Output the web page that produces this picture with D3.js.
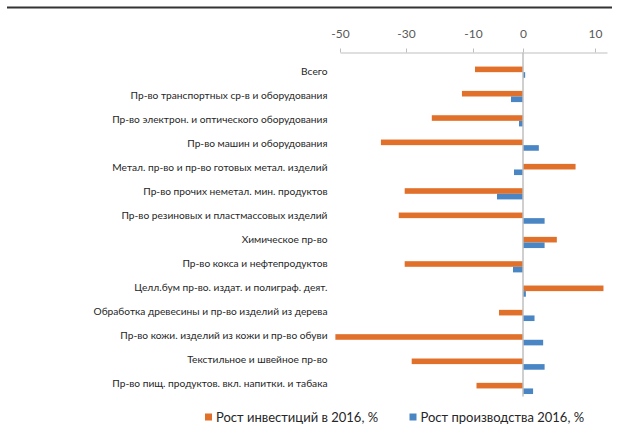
<!DOCTYPE html>
<html>
<head>
<meta charset="utf-8">
<script src="https://cdn.jsdelivr.net/npm/d3@7"></script>
<style>
    body { margin: 0; background: #fff; }
    svg { display: block; font-family: Lato, "Open Sans", sans-serif; }
</style>
</head>
<body>
<div id="chart"></div>
<script>
// categories, top to bottom
const categories = [
    "Всего",
    "Пр-во транспортных ср-в и оборудования",
    "Пр-во электрон. и оптического оборудования",
    "Пр-во машин и оборудования",
    "Метал. пр-во и пр-во готовых метал. изделий",
    "Пр-во прочих неметал. мин. продуктов",
    "Пр-во резиновых и пластмассовых изделий",
    "Химическое пр-во",
    "Пр-во кокса и нефтепродуктов",
    "Целл.бум пр-во. издат. и полиграф. деят.",
    "Обработка древесины и пр-во изделий из дерева",
    "Пр-во кожи. изделий из кожи и пр-во обуви",
    "Текстильное и швейное пр-во",
    "Пр-во пищ. продуктов. вкл. напитки. и табака"
];
const investGrowth = [-9.6, -13.3, -22.3, -37.6, 7.3, -30.4, -32.2, 4.7, -30.4, 11.2, -4.8, -51.4, -28.3, -9.3];
const prodGrowth = [0.3, -2.4, -0.8, 2.2, -1.8, -5.2, 3.0, 3.0, -2.0, 0.4, 1.6, 2.8, 3.0, 1.4];
const seriesNames = ["Рост инвестиций в 2016, %", "Рост производства 2016, %"];
const tickValues = [-50, -30, -10, 0, 10];

const colors = ["#e0702a", "#4a86c4"];

const width = 619, height = 435;

const svg = d3.select("#chart").append("svg")
    .attr("width", width)
    .attr("height", height);

// top rule
svg.append("line")
    .attr("x1", 7).attr("x2", 612)
    .attr("y1", 7.5).attr("y2", 7.5)
    .attr("stroke", "#333").attr("stroke-width", 2);

// the original axis is not evenly spaced, so the scale is piecewise
const x = d3.scaleLinear()
    .domain([-50, -30, -10, 0, 10, 11.7])
    .range([340, 406, 473, 523, 595, 607]);

const y = d3.scaleBand()
    .domain(categories)
    .range([60, 400.6])
    .paddingInner(0.54)
    .paddingOuter(0.27);

const ySub = d3.scaleBand()
    .domain([0, 1])
    .range([0, y.bandwidth()]);

// labels sit on a slightly tighter pitch than the bars in the original
const yLabel = d3.scalePoint()
    .domain(categories)
    .range([71.7, 383.5]);

const axisY = 52.5;

const xAxis = svg.append("g")
    .attr("transform", `translate(0,${axisY})`)
    .call(d3.axisTop(x).tickValues(tickValues).tickSize(4).tickSizeOuter(0).tickFormat(d3.format("d")));
xAxis.select(".domain").attr("stroke", "#bfbfbf");
xAxis.selectAll(".tick line").attr("stroke", "#bfbfbf");
xAxis.selectAll(".tick text")
    .attr("fill", "#595959")
    .attr("font-size", "12px")
    .attr("font-family", "Lato, sans-serif")
    .attr("dy", "-0.6em")
    .text(d => d < 0 ? "-" + Math.abs(d) : d);

const rows = categories.map((c, i) => ({ name: c, vals: [investGrowth[i], prodGrowth[i]] }));

const g = svg.append("g");
const row = g.selectAll("g.row")
    .data(rows)
    .join("g")
    .attr("class", "row")
    .attr("transform", d => `translate(0,${y(d.name)})`);

row.selectAll("rect")
    .data(d => d.vals)
    .join("rect")
    .attr("x", d => x(Math.min(0, d)))
    .attr("width", d => Math.abs(x(d) - x(0)))
    .attr("y", (d, i) => ySub(i))
    .attr("height", ySub.bandwidth())
    .attr("fill", (d, i) => colors[i]);

// category labels
svg.append("g").selectAll("text")
    .data(categories)
    .join("text")
    .attr("x", 327.5)
    .attr("y", d => yLabel(d))
    .attr("dy", "0.35em")
    .attr("text-anchor", "end")
    .attr("fill", "#262626")
    .attr("font-size", "10.2px")
    .text(d => d);

// zero line
svg.append("line")
    .attr("x1", x(0)).attr("x2", x(0))
    .attr("y1", axisY).attr("y2", y.range()[1] - 4)
    .attr("stroke", "#bfbfbf").attr("stroke-width", 1.5);

// legend
const legendX = [205, 409.5];
const legend = svg.append("g").selectAll("g")
    .data(seriesNames)
    .join("g")
    .attr("transform", (d, i) => `translate(${legendX[i]},413.5)`);
legend.append("rect")
    .attr("width", 7).attr("height", 7)
    .attr("fill", (d, i) => colors[i]);
legend.append("text")
    .attr("x", 11)
    .attr("y", 3.5)
    .attr("dy", "0.35em")
    .attr("fill", "#262626")
    .attr("font-size", "13px")
    .text(d => d);
</script>
</body>
</html>
